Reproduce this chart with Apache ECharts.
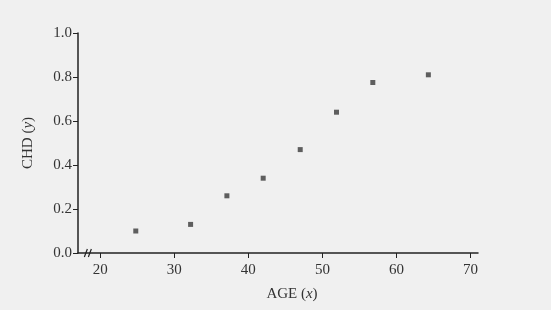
<!DOCTYPE html>
<html><head><meta charset="utf-8">
<script src="https://cdn.jsdelivr.net/npm/echarts@6/dist/echarts.min.js"></script>
<style>html,body{margin:0;padding:0;background:#f0f0f0;}#c{width:551px;height:310px;}</style>
</head><body><div id="c"></div>
<script>
const ages = [24.8, 32.2, 37.1, 42.0, 47.0, 51.9, 56.8, 64.3];
const chd = [0.10, 0.13, 0.26, 0.34, 0.47, 0.64, 0.775, 0.81];
const xTicks = [20, 30, 40, 50, 60, 70];
const yTicks = [0, 0.2, 0.4, 0.6, 0.8, 1.0];

const chart = echarts.init(document.getElementById('c'));
const font = 'Liberation Serif';
const axisCol = '#222';
chart.setOption({
  backgroundColor: '#f0f0f0',
  animation: false,
  grid: {left: 78, right: 73, top: 33, bottom: 57},
  xAxis: {
    type: 'value', min: 17, max: 71,
    name: 'AGE ({i|x})', nameLocation: 'middle', nameGap: 34,
    nameTextStyle: {fontFamily: font, fontSize: 15, color: '#333', padding: [0, 0, 0, 28],
      rich: {i: {fontFamily: font, fontStyle: 'italic', fontSize: 15, color: '#333'}}},
    axisLine: {lineStyle: {color: axisCol, width: 1.5}},
    axisTick: {show: true, length: 5, lineStyle: {color: axisCol}, customValues: xTicks},
    axisLabel: {customValues: xTicks, fontFamily: font, fontSize: 15, color: '#333', margin: 10},
    splitLine: {show: false}
  },
  yAxis: {
    type: 'value', min: 0, max: 1, interval: 0.2,
    name: 'CHD ({i|y})', nameLocation: 'middle', nameGap: 42, nameRotate: 90,
    nameTextStyle: {fontFamily: font, fontSize: 15, color: '#333',
      rich: {i: {fontFamily: font, fontStyle: 'italic', fontSize: 15, color: '#333'}}},
    axisLine: {show: true, lineStyle: {color: axisCol, width: 1.5}},
    axisTick: {show: true, length: 5, lineStyle: {color: axisCol}},
    axisLabel: {fontFamily: font, fontSize: 15, color: '#333', margin: 6,
      formatter: v => v.toFixed(1)},
    splitLine: {show: false}
  },
  series: [{
    type: 'scatter', symbol: 'rect', symbolSize: 5,
    itemStyle: {color: '#3a3a3a'},
    data: ages.map((a, i) => [a, chd[i]])
  }]
});
// axis break marks "//"
const p = chart.convertToPixel({gridIndex: 0}, [18.4, 0]);
chart.setOption({graphic: [
  {type: 'line', shape: {x1: p[0] - 4, y1: p[1] + 4, x2: p[0] - 1, y2: p[1] - 4}, style: {stroke: axisCol, lineWidth: 1.2}},
  {type: 'line', shape: {x1: p[0] + 0, y1: p[1] + 4, x2: p[0] + 3, y2: p[1] - 4}, style: {stroke: axisCol, lineWidth: 1.2}}
]});
</script></body></html>
